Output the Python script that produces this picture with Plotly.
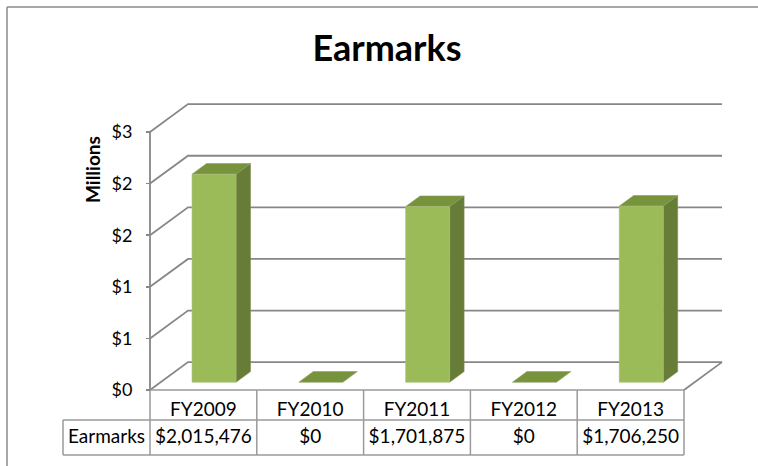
import plotly.graph_objects as go

# ---------------- data ----------------
categories = ["FY2009", "FY2010", "FY2011", "FY2012", "FY2013"]
earmarks = [2015476, 0, 1701875, 0, 1706250]
series_name = "Earmarks"
tick_vals_m = [0, 0.5, 1.0, 1.5, 2.0, 2.5]
tick_text = ["$0", "$1", "$1", "$2", "$2", "$3"]
title_text = "Earmarks"
axis_title = "Millions"

# ---------------- geometry (layout) ----------------
W, H = 758, 466
X0_PX, Y0_PX = 150, 390          # pixel of data origin (front-left floor corner)
PX_PER_CAT = 106.8
PX_PER_M = 103.2
DX, DY = 0.356, 0.27             # oblique depth offset (data units)
FD, BD = 0.28, 0.66              # bar depth fractions (front/back)
BAR_W = 0.412
YMAX = tick_vals_m[-1]
NCAT = len(categories)

x_range = [(0 - X0_PX) / PX_PER_CAT, (W - X0_PX) / PX_PER_CAT]
y_range = [(Y0_PX - H) / PX_PER_M, (Y0_PX - 0) / PX_PER_M]

# table rows (data units below the floor)
Y_HDR = -(420 - 390) / PX_PER_M
Y_BOT = -(455 - 390) / PX_PER_M
X_LBL = (63 - X0_PX) / PX_PER_CAT

GRID = "#878787"
TABLE = "#9a9a9a"
FRONT = "#9bbb59"
SIDE = "#677c36"
TOP = "#77933c"
FONT = "Lato"

fig = go.Figure()

# gridlines: back wall + left side wall diagonals
gx, gy = [], []
for v in tick_vals_m:
    gx += [0, DX, NCAT + DX, None]
    gy += [v, v + DY, v + DY, None]
# floor right edge
gx += [NCAT, NCAT + DX, None]
gy += [0, DY, None]
fig.add_trace(go.Scatter(x=gx, y=gy, mode="lines",
                         line=dict(color=GRID, width=1.8), hoverinfo="skip"))

# front-left value axis line
fig.add_trace(go.Scatter(x=[0, 0], y=[0, YMAX], mode="lines",
                         line=dict(color=GRID, width=1.8), hoverinfo="skip"))

# bars
sx, sy, tx, ty, fx, fy = [], [], [], [], [], []
for i, val in enumerate(earmarks):
    v = val / 1e6
    xl = i + 0.5 - BAR_W / 2
    xr = i + 0.5 + BAR_W / 2
    # top face
    tx += [xl + FD * DX, xr + FD * DX, xr + BD * DX, xl + BD * DX, xl + FD * DX, None]
    ty += [v + FD * DY, v + FD * DY, v + BD * DY, v + BD * DY, v + FD * DY, None]
    if v > 0:
        # side face
        sx += [xr + FD * DX, xr + BD * DX, xr + BD * DX, xr + FD * DX, xr + FD * DX, None]
        sy += [FD * DY, BD * DY, v + BD * DY, v + FD * DY, FD * DY, None]
        # front face
        fx += [xl + FD * DX, xr + FD * DX, xr + FD * DX, xl + FD * DX, xl + FD * DX, None]
        fy += [FD * DY, FD * DY, v + FD * DY, v + FD * DY, FD * DY, None]

fig.add_trace(go.Scatter(x=sx, y=sy, mode="lines", fill="toself", fillcolor=SIDE,
                         line=dict(color="#7d8f55", width=0.6), hoverinfo="skip"))
fig.add_trace(go.Scatter(x=tx, y=ty, mode="lines", fill="toself", fillcolor=TOP,
                         line=dict(color="#8a9c63", width=0.6), hoverinfo="skip"))
fig.add_trace(go.Scatter(x=fx, y=fy, mode="lines", fill="toself", fillcolor=FRONT,
                         line=dict(color="#a9bf7a", width=0.6), hoverinfo="skip"))

# data table lines
lx, ly = [], []
# floor front edge / header top
lx += [0, NCAT, None]; ly += [0, 0, None]
# header row verticals
for i in range(NCAT + 1):
    lx += [i, i, None]; ly += [0, Y_BOT, None]
# value row box
lx += [X_LBL, NCAT, None]; ly += [Y_HDR, Y_HDR, None]
lx += [X_LBL, NCAT, None]; ly += [Y_BOT, Y_BOT, None]
lx += [X_LBL, X_LBL, None]; ly += [Y_HDR, Y_BOT, None]
fig.add_trace(go.Scatter(x=lx, y=ly, mode="lines",
                         line=dict(color=TABLE, width=1.5), hoverinfo="skip"))

# table texts
hdr_y = Y_HDR * 0.70
val_y = Y_HDR + (Y_BOT - Y_HDR) * 0.53
fig.add_trace(go.Scatter(
    x=[i + 0.5 for i in range(NCAT)], y=[hdr_y] * NCAT, mode="text",
    text=categories, textfont=dict(family=FONT, size=19, color="#000"),
    textposition="middle center", hoverinfo="skip"))
fig.add_trace(go.Scatter(
    x=[i + 0.5 for i in range(NCAT)] + [X_LBL / 2], y=[val_y] * (NCAT + 1), mode="text",
    text=[f"${v:,.0f}" for v in earmarks] + [series_name],
    textfont=dict(family=FONT, size=19, color="#000"),
    textposition="middle center", hoverinfo="skip"))

fig.update_layout(
    width=W, height=H,
    margin=dict(l=0, r=0, t=0, b=0),
    paper_bgcolor="white", plot_bgcolor="white",
    showlegend=False, hovermode=False,
    title=dict(text=f"<b>{title_text}</b>", x=387 / W, y=1 - 48 / H,
               xanchor="center", yanchor="middle",
               font=dict(family=FONT, size=36, color="#000")),
    xaxis=dict(range=x_range, visible=False, fixedrange=True),
    yaxis=dict(range=y_range, showgrid=False, zeroline=False, showline=False,
               tickvals=tick_vals_m, ticktext=tick_text,
               ticks="outside", ticklen=4, tickwidth=1.5, tickcolor=GRID,
               ticklabelstandoff=10,
               tickfont=dict(family=FONT, size=18, color="#000"),
               anchor="free", position=X0_PX / W, fixedrange=True),
    annotations=[dict(text=f"<b>{axis_title}</b>", x=92 / W, y=1 - 170 / H,
                      xref="paper", yref="paper", textangle=-90, showarrow=False,
                      xanchor="center", yanchor="middle",
                      font=dict(family=FONT, size=19, color="#000"))],
    shapes=[
        dict(type="line", xref="paper", yref="paper", x0=7 / W, y0=1 - 7 / H,
             x1=1.0, y1=1 - 7 / H, line=dict(color="#8a8a8a", width=1.5)),
        dict(type="line", xref="paper", yref="paper", x0=7 / W, y0=1 - 7 / H,
             x1=7 / W, y1=0, line=dict(color="#8a8a8a", width=1.5)),
    ],
)

fig.write_html("out.html", include_plotlyjs=True, full_html=True,
               config={"displayModeBar": False, "staticPlot": True},
               post_script="document.body.style.margin='0';")
